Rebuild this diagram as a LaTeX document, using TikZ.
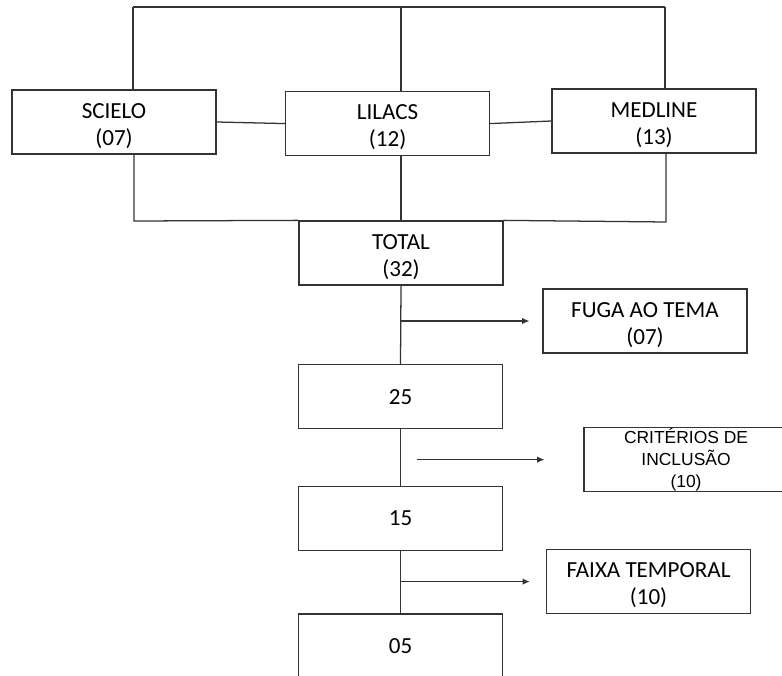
\documentclass[tikz,border=0pt]{standalone}
\usepackage{fontspec}
\setmainfont{Carlito}
\newfontfamily\arialfont{Liberation Sans}
\usetikzlibrary{positioning}
\usetikzlibrary{arrows.meta}
\usetikzlibrary{calc}

\newcommand{\topo}{\rule{0pt}{16pt}}

\tikzset{
  caixa/.style={draw=black!80, line width=0.9pt, minimum width=5.1cm, minimum height=1.6cm,
    align=center, inner sep=0pt, font=\fontsize{16.4}{19.3}\selectfont},
  linha/.style={draw=black!80, line width=0.9pt},
  seta/.style={linha, -{Latex[length=1.8mm,width=1.6mm]}}
}

\begin{document}
\begin{tikzpicture}
  \useasboundingbox (0,0) rectangle (19.55,-16.9);

  % bases de dados
  \node[caixa] (scielo) at (2.85,-3.05) {\topo SCIELO\\(07)};
  \node[caixa] (lilacs) at (9.69,-3.09) {\topo LILACS\\(12)};
  \node[caixa] (medline) at (16.35,-3.025) {\topo MEDLINE\\(13)};
  \node[caixa] (total) at (10.025,-6.325) {\topo TOTAL\\(32)};

  % etapas
  \node[caixa] (n25) at (10.0125,-9.92) {25};
  \node[caixa] (n15) at (10.0125,-12.96) {15};
  \node[caixa] (n05) at (10.0125,-16.15) {05};

  % exclusoes
  \node[caixa] (fuga) at (16.125,-8.025) {\topo FUGA AO TEMA\\(07)};
  \node[caixa, font=\arialfont\fontsize{12.4}{15.6}\selectfont] (crit) at (17.15,-11.49) {CRITÉRIOS DE\\INCLUSÃO\\(10)};
  \node[caixa] (faixa) at (16.2125,-14.54) {\topo FAIXA TEMPORAL\\(10)};

  \coordinate (tl) at (3.325,-0.175);
  \coordinate (tr) at (16.625,-0.175);
  \coordinate (bl) at (3.35,-5.525);
  \coordinate (br) at (16.65,-5.55);

  \draw[linha] (tl) -- (tr);
  \draw[linha] (tl) -- (tl |- scielo.north);
  \draw[linha] (total.north |- tl) -- (total.north |- lilacs.north);
  \draw[linha] (tr) -- (tr |- medline.north);
  \draw[linha] (scielo.east) -- (lilacs.west);
  \draw[linha] (lilacs.east) -- (medline.west);
  \draw[linha] (bl |- scielo.south) -- (bl) -- (total.north west);
  \draw[linha] (total.north |- lilacs.south) -- (total.north);
  \draw[linha] (br |- medline.south) -- (br) -- (total.north east);

  \draw[linha] (total.south) -- (n25.north);
  \draw[linha] (n25.south) -- (n15.north);
  \draw[linha] (n15.south) -- (n05.north);

  \draw[seta] (total.south |- fuga.west) -- ([xshift=-0.325cm]fuga.west);
  \draw[seta] ($(n25.south |- crit.west)+(0.4,0)$) -- ([xshift=-0.975cm]crit.west);
  \draw[seta] (n15.south |- faixa.west) -- ([xshift=-0.4cm]faixa.west);
\end{tikzpicture}
\end{document}
